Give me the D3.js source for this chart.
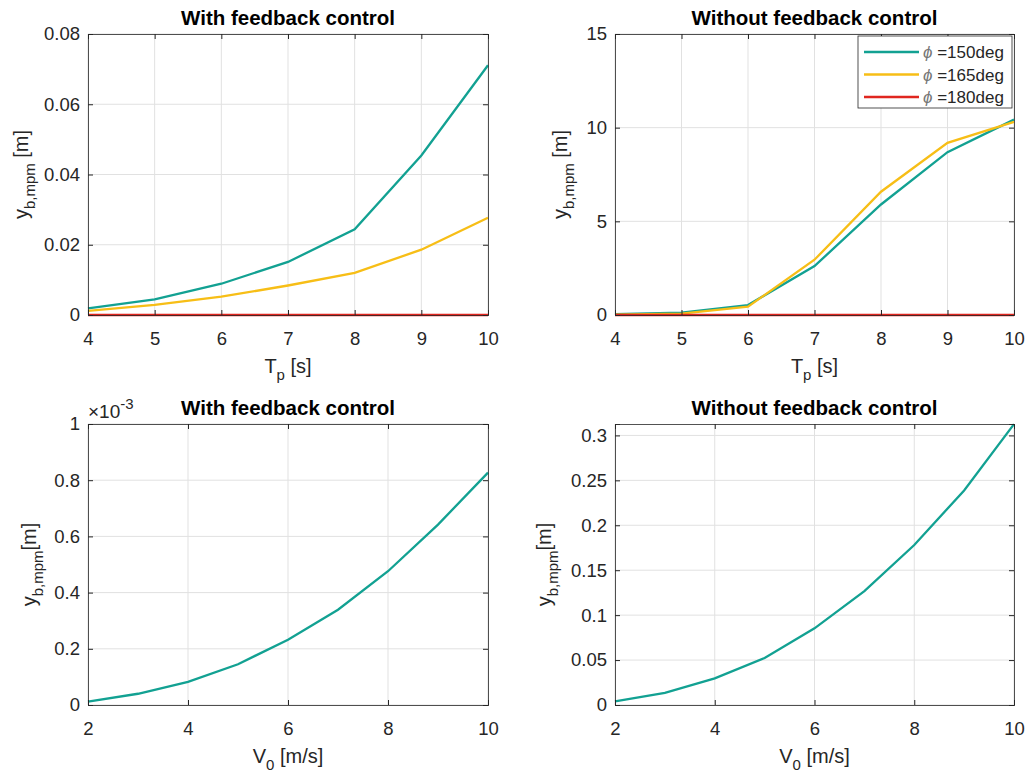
<!DOCTYPE html>
<html>
<head>
<meta charset="utf-8">
<script src="https://cdn.jsdelivr.net/npm/d3@7"></script>
<style>
  body { margin: 0; background: #fff; }
  svg { font-family: "Liberation Sans", Arial, sans-serif; }
  .grid line { stroke: #e1e1e1; }
</style>
</head>
<body>
<svg id="chart" width="1029" height="773"></svg>
<script>
// wave period sweep
var tp = [4, 5, 6, 7, 8, 9, 10];
var fb150 = [0.0019, 0.00445, 0.0089, 0.0151, 0.0244, 0.0454, 0.0711];
var fb165 = [0.0012, 0.0029, 0.0052, 0.0084, 0.0120, 0.0186, 0.0277];
var fb180 = [0, 0, 0, 0, 0, 0, 0];
var nofb150 = [0.04, 0.12, 0.53, 2.61, 5.9, 8.69, 10.43];
var nofb165 = [0.02, 0.07, 0.44, 2.95, 6.58, 9.19, 10.31];
var nofb180 = [0, 0, 0, 0, 0, 0, 0];

// current speed sweep
var v0 = [2, 3, 4, 5, 6, 7, 8, 9, 10];
var fbV = [0.012e-3, 0.040e-3, 0.082e-3, 0.145e-3, 0.2325e-3, 0.339e-3, 0.476e-3, 0.642e-3, 0.827e-3];
var nofbV = [0.0041, 0.0134, 0.0297, 0.0523, 0.0853, 0.1268, 0.178, 0.2388, 0.3126];

var legendLabels = ["=150deg", "=165deg", "=180deg"];
var colors = ["#12a192", "#f7be16", "#e0261f"];

var svg = d3.select("#chart");

function panel(opt) {
  var w = opt.right - opt.left, h = opt.bottom - opt.top;
  var g = svg.append("g").attr("transform", "translate(" + opt.left + "," + opt.top + ")");

  var x = d3.scaleLinear().domain(opt.xdom).range([0, w]);
  var y = d3.scaleLinear().domain(opt.ydom).range([h, 0]);

  // grid
  g.append("g").attr("class", "grid")
    .selectAll("line").data(opt.xticks).enter().append("line")
    .attr("x1", function(d) { return x(d); }).attr("x2", function(d) { return x(d); })
    .attr("y1", 0).attr("y2", h);
  g.append("g").attr("class", "grid")
    .selectAll("line").data(opt.yticks).enter().append("line")
    .attr("y1", function(d) { return y(d); }).attr("y2", function(d) { return y(d); })
    .attr("x1", 0).attr("x2", w);

  var line = d3.line()
    .x(function(d) { return x(d[0]); })
    .y(function(d) { return y(d[1]); });

  opt.series.forEach(function(s, i) {
    g.append("path")
      .datum(opt.xs.map(function(v, j) { return [v, s[j]]; }))
      .attr("fill", "none")
      .attr("stroke", colors[i])
      .attr("stroke-width", 2.3)
      .attr("d", line);
  });

  // axes, ticks pointing in
  var fmt = function(d) { return d; };
  var xAxis = d3.axisBottom(x).tickValues(opt.xticks).tickSize(-5).tickPadding(17).tickFormat(fmt);
  var yAxis = d3.axisLeft(y).tickValues(opt.yticks).tickSize(-5).tickPadding(8).tickFormat(opt.yfmt || fmt);
  var xTop = d3.axisTop(x).tickValues(opt.xticks).tickSize(-5).tickFormat("");
  var yRight = d3.axisRight(y).tickValues(opt.yticks).tickSize(-5).tickFormat("");

  [
    g.append("g").attr("transform", "translate(0," + h + ")").call(xAxis),
    g.append("g").call(yAxis),
    g.append("g").call(xTop),
    g.append("g").attr("transform", "translate(" + w + ",0)").call(yRight)
  ].forEach(function(a) {
    a.attr("font-family", null);
    a.select(".domain").attr("stroke", "#262626").attr("stroke-width", 0.8);
    a.selectAll(".tick line").attr("stroke", "#262626");
  });
  g.selectAll(".tick text").attr("font-size", 18.5).attr("fill", "#262626");

  // title
  g.append("text")
    .attr("x", w / 2).attr("y", -9)
    .attr("text-anchor", "middle")
    .attr("font-size", 20.5).attr("font-weight", "bold")
    .attr("fill", "#000")
    .text(opt.title);

  // x label
  var xl = g.append("text")
    .attr("x", w / 2).attr("y", h + 58)
    .attr("text-anchor", "middle")
    .attr("font-size", 20).attr("fill", "#262626");
  xl.append("tspan").text(opt.xlab[0]);
  xl.append("tspan").attr("font-size", 15).attr("dy", 7).text(opt.xlab[1]);
  xl.append("tspan").attr("dy", -7).text(opt.xlab[2]);

  // y label
  var yl = g.append("text")
    .attr("transform", "translate(" + opt.ylabX + "," + (h / 2) + ") rotate(-90)")
    .attr("text-anchor", "middle")
    .attr("font-size", 20).attr("fill", "#262626");
  yl.append("tspan").text("y");
  yl.append("tspan").attr("font-size", 15).attr("dy", 7).text("b,mpm");
  yl.append("tspan").attr("dy", -7).text(opt.ylabEnd);

  if (opt.exponent) {
    var ex = g.append("text").attr("x", 0).attr("y", -6)
      .attr("font-size", 19).attr("fill", "#262626");
    ex.append("tspan").text("\u00d710");
    ex.append("tspan").attr("font-size", 15).attr("dy", -9).text(opt.exponent);
  }

  if (opt.legend) {
    var lg = g.append("g").attr("transform", "translate(" + (w - 156) + ",2)");
    lg.append("rect").attr("width", 154).attr("height", 72)
      .attr("fill", "#fff").attr("stroke", "#262626").attr("stroke-width", 0.8);
    legendLabels.forEach(function(lab, i) {
      var yy = 16 + i * 22.5;
      lg.append("line").attr("x1", 6).attr("x2", 61).attr("y1", yy).attr("y2", yy)
        .attr("stroke", colors[i]).attr("stroke-width", 2.3);
      var t = lg.append("text").attr("x", 65).attr("y", yy + 6).attr("font-size", 17).attr("fill", "#262626");
      t.append("tspan").attr("font-style", "italic").attr("fill", "#777").text("\u03d5 ");
      t.append("tspan").text(lab);
    });
  }
}

var tpTicks = [4, 5, 6, 7, 8, 9, 10];

panel({
  left: 88, right: 488, top: 34, bottom: 315,
  xdom: [4, 10], ydom: [0, 0.08], xticks: tpTicks, yticks: [0, 0.02, 0.04, 0.06, 0.08],
  xs: tp, series: [fb150, fb165, fb180],
  title: "With feedback control", xlab: ["T", "p", " [s]"], ylabX: -60, ylabEnd: " [m]"
});

panel({
  left: 615, right: 1014, top: 34, bottom: 315,
  xdom: [4, 10], ydom: [0, 15], xticks: tpTicks, yticks: [0, 5, 10, 15],
  xs: tp, series: [nofb150, nofb165, nofb180],
  title: "Without feedback control", xlab: ["T", "p", " [s]"], ylabX: -48, ylabEnd: " [m]",
  legend: true
});

panel({
  left: 88, right: 488, top: 424, bottom: 705,
  xdom: [2, 10], ydom: [0, 1e-3], xticks: [2, 4, 6, 8, 10], yticks: [0, 0.2e-3, 0.4e-3, 0.6e-3, 0.8e-3, 1e-3],
  yfmt: function(d) { return +(d * 1000).toFixed(1); },
  xs: v0, series: [fbV],
  title: "With feedback control", xlab: ["V", "0", " [m/s]"], ylabX: -52, ylabEnd: "[m]",
  exponent: "-3"
});

panel({
  left: 615, right: 1014, top: 424, bottom: 705,
  xdom: [2, 10], ydom: [0, 0.3127], xticks: [2, 4, 6, 8, 10], yticks: [0, 0.05, 0.1, 0.15, 0.2, 0.25, 0.3],
  xs: v0, series: [nofbV],
  title: "Without feedback control", xlab: ["V", "0", " [m/s]"], ylabX: -64, ylabEnd: "[m]"
});
</script>
</body>
</html>
